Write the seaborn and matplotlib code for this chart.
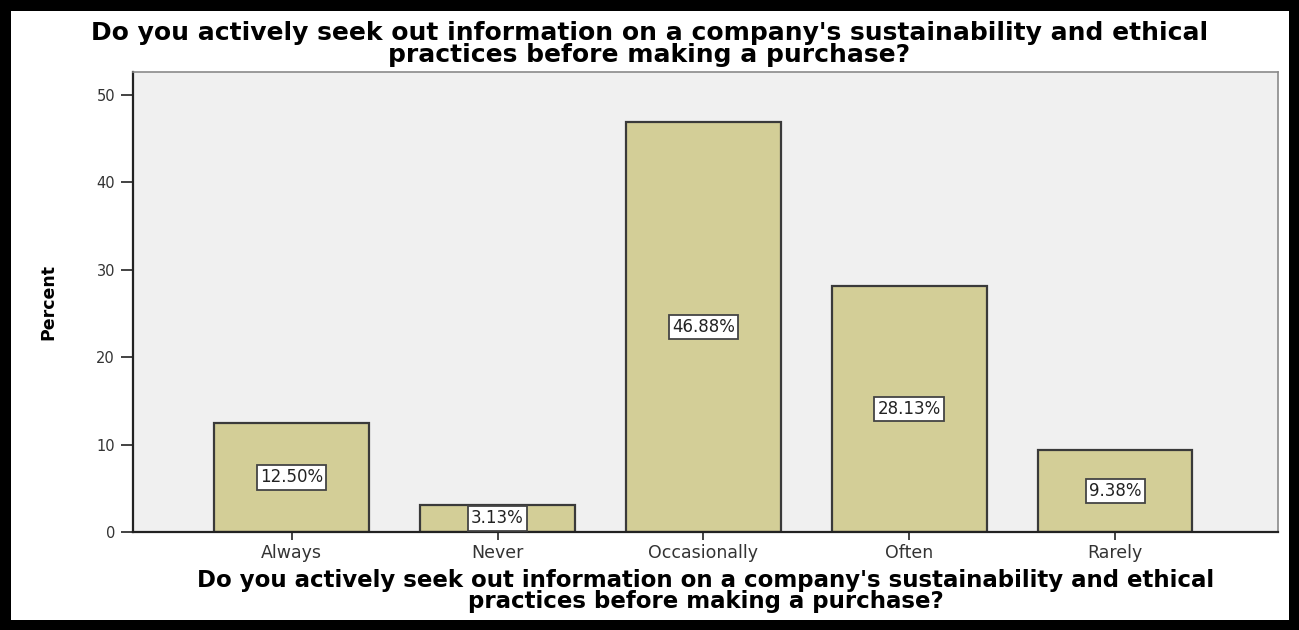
import matplotlib
matplotlib.use("Agg")
import matplotlib.pyplot as plt
import seaborn as sns

# Survey responses (percent of respondents)
categories = ["Always", "Never", "Occasionally", "Often", "Rarely"]
percent = [12.50, 3.13, 46.88, 28.13, 9.38]
yticks = [0, 10, 20, 30, 40, 50]
question = ("Do you actively seek out information on a company's sustainability and ethical\n"
            "practices before making a purchase?")

sns.set_style("white")
plt.rcParams["font.family"] = ["DejaVu Sans"]

fig = plt.figure(figsize=(12.99, 6.30), dpi=100, linewidth=14, edgecolor="black")
ax = fig.add_axes([0.1024, 0.1556, 0.9838 - 0.1024, 0.8857 - 0.1556])
ax.set_facecolor("#F0F0F0")

sns.barplot(x=categories, y=percent, order=categories, color="#D3CE97",
            width=0.75, edgecolor="#3A3A3A", linewidth=1.6, saturation=1, ax=ax)

ax.bar_label(ax.containers[0], labels=[f"{v:.2f}%" for v in percent],
             label_type="center", fontsize=12, color="#222222",
             bbox=dict(boxstyle="square,pad=0.2", facecolor="white",
                       edgecolor="#444444", linewidth=1.3))

ax.set_xlim(-0.77, 4.79)
ax.set_ylim(0, 52.6)
ax.set_yticks(yticks)
ax.set_yticklabels([str(t) for t in yticks], fontsize=10.5, color="#333333")
ax.tick_params(axis="y", direction="out", length=9, width=1.2, color="#222222", pad=4, left=True)
ax.tick_params(axis="x", direction="out", length=6, width=1.2, color="#222222", pad=3,
               labelsize=12.5, labelcolor="#333333", bottom=True)

for side in ("left", "bottom"):
    ax.spines[side].set_color("#222222")
    ax.spines[side].set_linewidth(1.6)
for side in ("top", "right"):
    ax.spines[side].set_color("#8A8A8A")
    ax.spines[side].set_linewidth(1.2)

ax.set_ylabel("Percent", fontsize=12.5, fontweight="bold", color="black", labelpad=28)
ax.set_xlabel(question, fontsize=16.5, fontweight="bold", color="black",
              labelpad=5, linespacing=0.88)

fig.text(0.5, 0.93, question, ha="center", va="center", fontsize=18,
         fontweight="bold", color="black", linespacing=0.86)

fig.savefig("out.png", dpi=100, edgecolor=fig.get_edgecolor())
